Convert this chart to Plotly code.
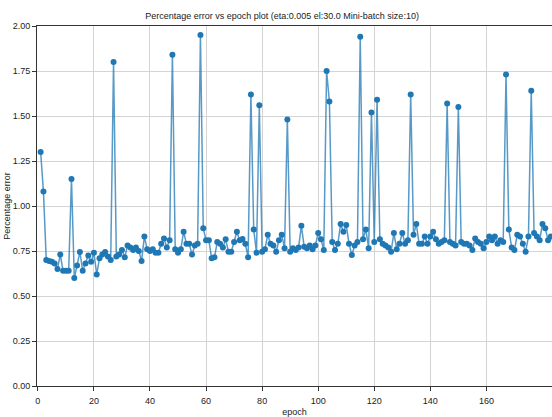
import plotly.graph_objects as go

# Percentage error per epoch (epochs 1..183)
epochs = list(range(1, 184))
percentage_error = [
    1.30, 1.08, 0.70, 0.695, 0.69, 0.68, 0.65, 0.73, 0.64, 0.64,
    0.64, 1.15, 0.60, 0.67, 0.745, 0.64, 0.68, 0.725, 0.69, 0.74,
    0.62, 0.71, 0.73, 0.745, 0.72, 0.70, 1.80, 0.72, 0.73, 0.755,
    0.715, 0.78, 0.77, 0.755, 0.77, 0.75, 0.695, 0.83, 0.76, 0.75,
    0.76, 0.74, 0.74, 0.79, 0.82, 0.77, 0.81, 1.84, 0.76, 0.74,
    0.76, 0.857, 0.79, 0.79, 0.73, 0.78, 0.79, 1.95, 0.876, 0.81,
    0.81, 0.71, 0.715, 0.80, 0.79, 0.77, 0.815, 0.746, 0.746, 0.80,
    0.857, 0.81, 0.816, 0.79, 0.715, 1.62, 0.87, 0.74, 1.56, 0.746,
    0.76, 0.84, 0.79, 0.78, 0.746, 0.81, 0.84, 0.765, 1.48, 0.746,
    0.765, 0.755, 0.77, 0.89, 0.774, 0.765, 0.78, 0.76, 0.78, 0.85,
    0.815, 0.755, 1.75, 1.58, 0.80, 0.755, 0.79, 0.90, 0.857, 0.894,
    0.79, 0.728, 0.78, 0.80, 1.94, 0.815, 0.87, 0.765, 1.52, 0.80,
    1.59, 0.815, 0.79, 0.78, 0.77, 0.746, 0.85, 0.76, 0.79, 0.85,
    0.79, 0.81, 1.62, 0.84, 0.90, 0.79, 0.79, 0.83, 0.79, 0.83,
    0.857, 0.815, 0.79, 0.80, 0.81, 1.57, 0.80, 0.79, 0.78, 1.55,
    0.80, 0.79, 0.79, 0.78, 0.755, 0.82, 0.80, 0.79, 0.765, 0.80,
    0.83, 0.81, 0.83, 0.79, 0.81, 0.80, 1.73, 0.87, 0.77, 0.755,
    0.84, 0.83, 0.79, 0.746, 0.83, 1.64, 0.85, 0.83, 0.81, 0.90,
    0.876, 0.81, 0.83,
]

x_ticks = [0, 20, 40, 60, 80, 100, 120, 140, 160]
y_ticks = [0.0, 0.25, 0.5, 0.75, 1.0, 1.25, 1.5, 1.75, 2.0]

FONT = "Liberation Sans, Arial, sans-serif"

fig = go.Figure()
fig.add_trace(go.Scatter(
    x=epochs, y=percentage_error, mode="lines+markers",
    line=dict(color="rgba(31,119,180,0.75)", width=1.5),
    marker=dict(color="#1f77b4", size=6),
    showlegend=False,
))

fig.update_layout(
    width=552, height=417,
    margin=dict(l=37, r=0, t=26, b=31),
    paper_bgcolor="white", plot_bgcolor="white",
    font=dict(family=FONT, size=9, color="#222"),
    title=dict(text="Percentage error vs epoch plot (eta:0.005 el:30.0 Mini-batch size:10)",
               x=0.511, xanchor="center", yref="container", y=0.962, yanchor="middle",
               font=dict(family=FONT, size=9, color="#222")),
)
fig.update_xaxes(
    range=[-0.3, 183.4], tickvals=x_ticks, ticktext=[str(t) for t in x_ticks],
    showgrid=True, gridcolor="#d4d4d4", gridwidth=1,
    showline=True, linecolor="#333", linewidth=1, mirror=True,
    ticks="outside", ticklen=4, tickcolor="#333", ticklabelstandoff=2,
    tickfont=dict(family=FONT, size=9, color="#222"),
    title=dict(text="epoch", standoff=4, font=dict(family=FONT, size=9, color="#222")),
    zeroline=False,
)
fig.update_yaxes(
    range=[0, 2.0], tickvals=y_ticks, tickformat=".2f",
    showgrid=True, gridcolor="#d4d4d4", gridwidth=1,
    showline=True, linecolor="#333", linewidth=1,
    ticks="outside", ticklen=4, tickcolor="#333",
    tickfont=dict(family=FONT, size=9, color="#222"),
    title=dict(text="Percentage error", standoff=0, font=dict(family=FONT, size=9, color="#222")),
    zeroline=False,
)

fig.write_html("out.html")
